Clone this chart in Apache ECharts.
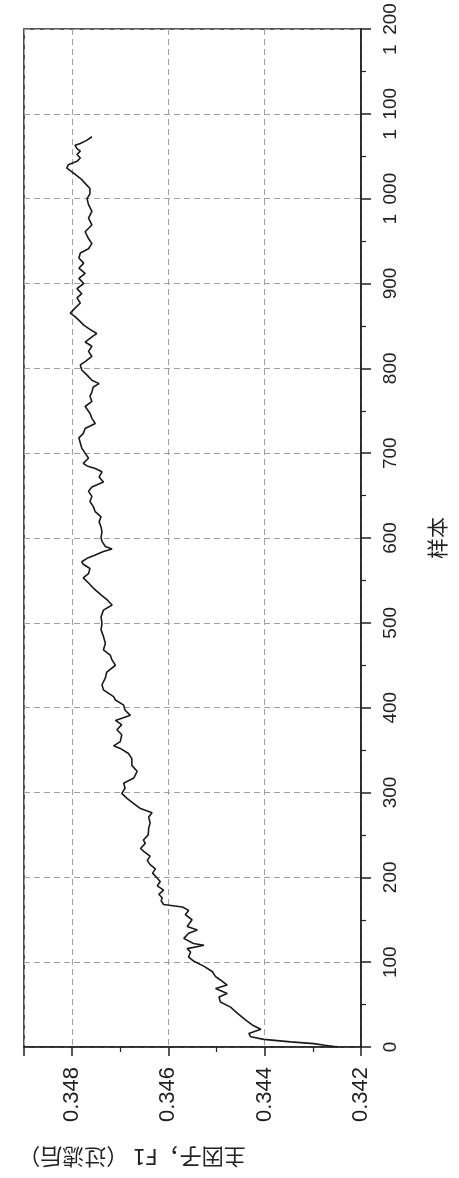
<!DOCTYPE html>
<html>
<head>
<meta charset="utf-8">
<script src="https://cdn.jsdelivr.net/npm/echarts@6/dist/echarts.min.js"></script>
<style>
  html, body { margin: 0; padding: 0; background: #fff; }
  #chart { width: 459px; height: 1178px; }
</style>
</head>
<body>
<div id="chart"></div>
<script>
// Filtered first factor F1 against sample index (plot drawn turned on its side:
// samples run bottom-to-top on the right axis, F1 runs right-to-left on the bottom axis).
const samples = [
  0, 2, 4, 6, 9, 12, 16, 21, 26, 32, 40, 47, 53, 59, 63, 69, 73, 79, 83, 89,
  95, 101, 106, 112, 116, 120, 122, 128, 134, 138, 142, 150, 156, 161, 165, 168, 172, 176, 180, 185,
  190, 195, 200, 205, 210, 215, 220, 225, 230, 234, 240, 244, 250, 258, 264, 271, 276, 281, 287, 293,
  299, 305, 311, 317, 325, 332, 340, 346, 352, 355, 360, 368, 374, 380, 385, 391, 397, 403, 409, 413,
  421, 427, 435, 442, 450, 456, 462, 468, 476, 484, 492, 499, 507, 515, 521, 527, 533, 541, 547, 553,
  558, 564, 569, 572, 576, 580, 584, 587, 590, 596, 601, 607, 613, 619, 625, 631, 637, 643, 649, 655,
  660, 666, 672, 678, 682, 685, 688, 694, 700, 706, 712, 718, 723, 729, 735, 741, 747, 755, 761, 767,
  772, 778, 782, 786, 792, 798, 804, 808, 814, 820, 826, 831, 837, 841, 846, 851, 855, 861, 865, 871,
  877, 883, 888, 894, 900, 906, 912, 918, 924, 930, 936, 941, 947, 953, 961, 969, 977, 985, 993, 1000,
  1006, 1012, 1018, 1024, 1030, 1036, 1040, 1044, 1048, 1052, 1056, 1059, 1063, 1065, 1069, 1073
];
const f1Values = [
  0.34248, 0.34275, 0.34298, 0.34346, 0.34402, 0.34429, 0.34433, 0.34408, 0.34426, 0.34440,
  0.34457, 0.34471, 0.34492, 0.34495, 0.34478, 0.34502, 0.34478, 0.34492, 0.34502, 0.34509,
  0.34526, 0.34547, 0.34558, 0.34554, 0.34561, 0.34526, 0.34548, 0.34568, 0.34558, 0.34540,
  0.34561, 0.34551, 0.34565, 0.34558, 0.34571, 0.34610, 0.34615, 0.34613, 0.34620, 0.34610,
  0.34623, 0.34617, 0.34625, 0.34633, 0.34627, 0.34638, 0.34644, 0.34638, 0.34650, 0.34658,
  0.34648, 0.34652, 0.34642, 0.34641, 0.34638, 0.34641, 0.34634, 0.34658, 0.34672, 0.34686,
  0.34697, 0.34690, 0.34693, 0.34672, 0.34665, 0.34676, 0.34676, 0.34683, 0.34700, 0.34714,
  0.34700, 0.34697, 0.34707, 0.34697, 0.34710, 0.34679, 0.34690, 0.34693, 0.34710, 0.34714,
  0.34735, 0.34738, 0.34731, 0.34728, 0.34710, 0.34717, 0.34721, 0.34735, 0.34731, 0.34735,
  0.34740, 0.34738, 0.34740, 0.34735, 0.34717, 0.34727, 0.34740, 0.34756, 0.34766, 0.34777,
  0.34766, 0.34763, 0.34777, 0.34780, 0.34769, 0.34752, 0.34735, 0.34717, 0.34731, 0.34738,
  0.34740, 0.34738, 0.34740, 0.34744, 0.34740, 0.34752, 0.34756, 0.34763, 0.34759, 0.34766,
  0.34759, 0.34735, 0.34744, 0.34738, 0.34752, 0.34769, 0.34777, 0.34766, 0.34773, 0.34780,
  0.34783, 0.34786, 0.34777, 0.34773, 0.34752, 0.34759, 0.34763, 0.34773, 0.34759, 0.34763,
  0.34759, 0.34756, 0.34744, 0.34759, 0.34769, 0.34780, 0.34783, 0.34773, 0.34759, 0.34766,
  0.34759, 0.34773, 0.34759, 0.34749, 0.34763, 0.34776, 0.34783, 0.34794, 0.34804, 0.34794,
  0.34783, 0.34790, 0.34780, 0.34790, 0.34776, 0.34786, 0.34773, 0.34786, 0.34776, 0.34786,
  0.34783, 0.34766, 0.34759, 0.34766, 0.34773, 0.34759, 0.34766, 0.34759, 0.34766, 0.34769,
  0.34763, 0.34763, 0.34773, 0.34783, 0.34797, 0.34811, 0.34808, 0.34790, 0.34783, 0.34790,
  0.34783, 0.34790, 0.34794, 0.34783, 0.34769, 0.34759
];
const f1Title = '主因子，F1 （过滤后）';
const sampleTitle = '样本';

const ink = '#222';
const gridDash = { color: '#a0a0a0', width: 1, type: [6, 4] };

function sampleLabel(v) {
  if (v >= 1000) {
    return Math.floor(v / 1000) + '\u2002' + String(v % 1000).padStart(3, '0');
  }
  return String(v);
}

const chart = echarts.init(document.getElementById('chart'), null, { renderer: 'canvas' });
chart.setOption({
  animation: false,
  backgroundColor: '#fff',
  grid: {
    left: 24, top: 29, right: 98, bottom: 131,
    show: true, borderColor: ink, borderWidth: 1.6, backgroundColor: 'transparent'
  },
  xAxis: {
    type: 'value',
    position: 'bottom',
    min: 0.342, max: 0.349, interval: 0.002,
    inverse: true,
    axisLine: { show: true, lineStyle: { color: ink, width: 1.6 } },
    axisTick: { show: true, length: 9, lineStyle: { color: ink, width: 1.5 } },
    minorTick: { show: true, splitNumber: 2, length: 5, lineStyle: { color: ink, width: 1.2 } },
    axisLabel: {
      rotate: 90, margin: 20, showMaxLabel: false,
      color: '#222', fontSize: 22, fontFamily: 'Liberation Sans, Arial, sans-serif',
      formatter: v => v.toFixed(3)
    },
    splitLine: { show: true, lineStyle: gridDash },
    minorSplitLine: { show: false }
  },
  yAxis: {
    type: 'value',
    position: 'right',
    min: 0, max: 1200, interval: 100,
    name: sampleTitle,
    nameLocation: 'middle',
    nameGap: 66,
    nameTextStyle: { color: '#222', fontSize: 21, fontFamily: 'Noto Sans CJK SC, sans-serif' },
    axisLine: { show: true, lineStyle: { color: ink, width: 1.6 } },
    axisTick: { show: true, length: 10, lineStyle: { color: ink, width: 1.5 } },
    minorTick: { show: true, splitNumber: 2, length: 5, lineStyle: { color: ink, width: 1.2 } },
    axisLabel: {
      rotate: 90, margin: 20,
      color: '#222', fontSize: 19, fontFamily: 'Liberation Sans, Arial, sans-serif',
      formatter: sampleLabel
    },
    splitLine: { show: true, lineStyle: gridDash },
    minorSplitLine: { show: false }
  },
  graphic: [{
    type: 'text',
    x: 132, y: 1157,
    rotation: Math.PI,
    style: {
      text: f1Title,
      fill: '#222',
      font: '22px "Noto Sans CJK SC", sans-serif',
      textAlign: 'center',
      textVerticalAlign: 'middle'
    }
  }],
  series: [{
    type: 'line',
    data: samples.map((s, i) => [f1Values[i], s]),
    showSymbol: false,
    symbol: 'none',
    smooth: false,
    lineStyle: { color: '#1a1a1a', width: 1.6 },
    z: 5
  }]
});
</script>
</body>
</html>
